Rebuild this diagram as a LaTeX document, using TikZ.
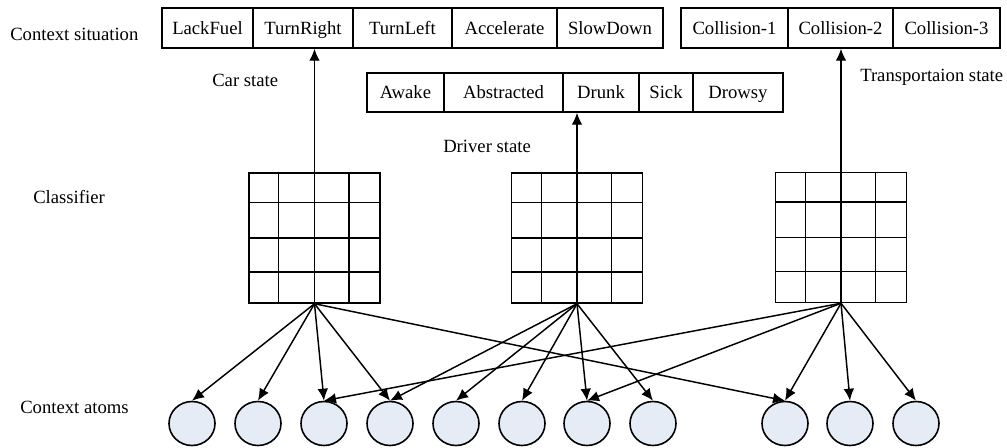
\documentclass[tikz,border=0pt]{standalone}
\usepackage{fontspec}
\setmainfont{Liberation Serif}
\usetikzlibrary{arrows.meta,calc,shapes.geometric}
\definecolor{atomfill}{RGB}{230,236,246}

\begin{document}
\begin{tikzpicture}[x=0.75pt,y=-0.75pt,
	font=\fontsize{14}{16}\selectfont,
	box/.style={draw, line width=1.1pt, inner sep=0pt, minimum height=30pt, text height=9.5pt, text depth=0pt},
	mbox/.style={box, minimum height=29.25pt},
	classifier/.style={draw, line width=1.1pt, inner sep=0pt, minimum width=98.25pt, minimum height=97.5pt},
	atom/.style={ellipse, draw, line width=1.2pt, fill=atomfill, inner sep=0pt, minimum width=34.5pt, minimum height=33pt},
	lbl/.style={anchor=base west, inner sep=0pt},
	link/.style={-{Latex[length=9pt,width=8pt]}, line width=1.1pt}]
	\useasboundingbox (0,0) rectangle (1007,447);
	% Boxes, classifiers and atoms:
	\node[box, minimum width=68.25pt] (lackfuel) at (207.5,28) {LackFuel};
	\node[box, minimum width=75pt] (turnright) at (303,28) {TurnRight};
	\node[box, minimum width=74.25pt] (turnleft) at (402.5,28) {TurnLeft};
	\node[box, minimum width=78.75pt] (accelerate) at (504.5,28) {Accelerate};
	\node[box, minimum width=79.5pt] (slowdown) at (610,28) {SlowDown};
	\node[box, minimum width=80.25pt] (collision1) at (734.5,28) {Collision-1};
	\node[box, minimum width=78.75pt] (collision2) at (840.5,28) {Collision-2};
	\node[box, minimum width=80.25pt] (collision3) at (946.5,28) {Collision-3};
	\node[mbox, minimum width=57.75pt] (awake) at (405.5,92.5) {Awake};
	\node[mbox, minimum width=89.25pt] (abstracted) at (503.5,92.5) {Abstracted};
	\node[mbox, minimum width=57pt] (drunk) at (601,92.5) {Drunk};
	\node[mbox, minimum width=40.5pt] (sick) at (666,92.5) {Sick};
	\node[mbox, minimum width=67.5pt] (drowsy) at (738,92.5) {Drowsy};
	\node[classifier] (cls1) at (314.5,238) {};
	\node[classifier] (cls2) at (577,238) {};
	\node[classifier] (cls3) at (841,237.5) {};
	\foreach \c in {cls1,cls2,cls3}
		\foreach \f in {0.23,0.5,0.76} {
			\draw[line width=1.1pt] ($(\c.north west)!\f!(\c.north east)$) -- ($(\c.south west)!\f!(\c.south east)$);
			\draw[line width=1.1pt] ($(\c.north west)!\f!(\c.south west)$) -- ($(\c.north east)!\f!(\c.south east)$);
		}
	\foreach \n/\x in {1/192,2/258,3/324,4/390,5/456,6/522,7/587,8/653,9/785,10/850,11/916}
		\node[atom] (a\n) at (\x,423.5) {};
	\draw[link] (cls1.north) -- (cls1.north |- turnright.south);
	\draw[link] (cls2.north) -- (cls2.north |- drunk.south);
	\draw[link] (cls3.north) -- (cls3.north |- collision2.south);
	\foreach \a in {1,2,3,4,9} \draw[link] (cls1.south) -- (a\a.north);
	\foreach \a in {4,5,6,7,8} \draw[link] (cls2.south) -- (a\a.north);
	\foreach \a in {3,7,9,10,11} \draw[link] (cls3.south) -- (a\a.north);
	\node[lbl] (lsituation) at (10,40) {Context situation};
	\node[lbl] (lcar) at (212,86) {Car state};
	\node[lbl] (ltransport) at (860,81) {Transportaion state};
	\node[lbl] (ldriver) at (443,152) {Driver state};
	\node[lbl] (lclassifier) at (33,203) {Classifier};
	\node[lbl] (latoms) at (20,413) {Context atoms};
\end{tikzpicture}
\end{document}
